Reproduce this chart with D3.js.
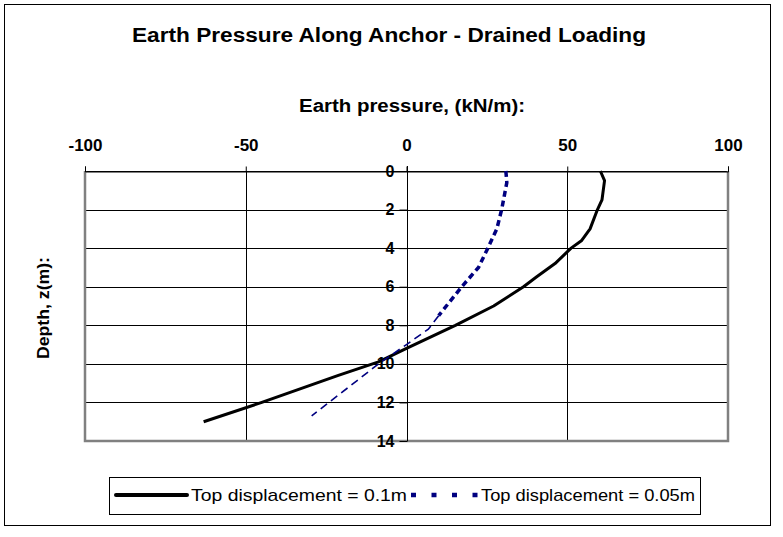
<!DOCTYPE html>
<html><head><meta charset="utf-8">
<script src="https://cdn.jsdelivr.net/npm/d3@7"></script>
<style>body{margin:0;background:#fff}svg{display:block;font-family:"Liberation Sans",Arial,sans-serif}</style>
</head><body><svg id="c" width="783" height="537"></svg>
<script>
const title = "Earth Pressure Along Anchor - Drained Loading";
const xTitle = "Earth pressure, (kN/m):";
const yTitle = "Depth, z(m):";
const xTicks = [-100, -50, 0, 50, 100];
const yTicks = [0, 2, 4, 6, 8, 10, 12, 14];
const seriesNames = ["Top displacement = 0.1m", "Top displacement = 0.05m"];
// depth (m) and earth pressure (kN/m)
const depth1 = [0, 0.5, 1.5, 2, 3, 3.6, 4, 4.8, 5.5, 6, 7, 8, 9.2, 9.9, 10.6, 12, 13];
const press1 = [60.3, 61.6, 60.8, 59.4, 57.1, 54.5, 51.2, 46.2, 40.4, 36.4, 27.1, 15.2, 0, -8.7, -21.2, -45, -63.1];
const depth2 = [0, 0.6, 2, 3, 4, 5, 6, 7.5, 8.2, 9, 10, 12.7];
const press2 = [30.9, 31.2, 29.6, 28.1, 25.3, 22.4, 17.2, 10, 6.8, 0, -8.7, -29.5];
const thinFrom = 7.5; // lower part of dashed line renders thinner

const svg = d3.select("#c");
const L = 85, R = 728, T = 171, B = 441;
const x = d3.scaleLinear().domain([-100, 100]).range([L, R]);
const y = d3.scaleLinear().domain([0, 14]).range([T, B]);

// outer border
svg.append("rect").attr("x", 4.5).attr("y", 4.5).attr("width", 766).attr("height", 521)
  .attr("fill", "none").attr("stroke", "#000").attr("stroke-width", 1);

// titles
svg.append("text").attr("x", 389).attr("y", 42).attr("text-anchor", "middle")
  .attr("font-size", 20).attr("font-weight", "bold")
  .attr("textLength", 514).attr("lengthAdjust", "spacingAndGlyphs").text(title);
svg.append("text").attr("x", 412).attr("y", 112).attr("text-anchor", "middle")
  .attr("font-size", 18).attr("font-weight", "bold")
  .attr("textLength", 226).attr("lengthAdjust", "spacingAndGlyphs").text(xTitle);
svg.append("text").attr("transform", `translate(49,${(T + B) / 2 + 2}) rotate(-90)`)
  .attr("text-anchor", "middle").attr("font-size", 16).attr("font-weight", "bold")
  .attr("textLength", 102).attr("lengthAdjust", "spacingAndGlyphs").text(yTitle);

// gridlines
const g = svg.append("g");
g.selectAll("line.h").data(yTicks.slice(0, -1)).join("line")
  .attr("x1", L).attr("x2", R).attr("y1", d => Math.round(y(d)) + 0.5).attr("y2", d => Math.round(y(d)) + 0.5)
  .attr("stroke", "#000").attr("stroke-width", 1);
g.selectAll("line.v").data(xTicks.filter(d => d !== -100 && d !== 100 && d !== 0)).join("line")
  .attr("y1", T).attr("y2", B).attr("x1", d => Math.round(x(d)) + 0.5).attr("x2", d => Math.round(x(d)) + 0.5)
  .attr("stroke", "#000").attr("stroke-width", 1);

// plot area gray border (left, bottom, right)
svg.append("path").attr("d", `M${L},${T}V${B}H${R}V${T}`).attr("fill", "none")
  .attr("stroke", "#808080").attr("stroke-width", 2.5);

const fmt = d => String(d);
// top x axis
const xAxis = d3.axisTop(x).tickValues(xTicks).tickSize(5).tickPadding(16).tickFormat(fmt);
const xg = svg.append("g").attr("transform", `translate(0,${T + 0.5})`).call(xAxis);
xg.select(".domain").attr("stroke", "#000");
xg.selectAll("text").attr("font-size", 17).attr("font-weight", "bold").attr("font-family", "Liberation Sans, Arial, sans-serif").attr("fill", "#000");

// y axis at x=0
const yAxis = d3.axisLeft(y).tickValues(yTicks).tickSize(8).tickPadding(5).tickFormat(fmt);
const yg = svg.append("g").attr("transform", `translate(${Math.round(x(0)) + 0.5},0)`).call(yAxis);
yg.select(".domain").attr("d", `M0,${T - 5}V${B}`).attr("stroke", "#000");
yg.selectAll("text").attr("font-size", 16).attr("font-weight", "bold").attr("font-family", "Liberation Sans, Arial, sans-serif").attr("fill", "#000");

// series
const line = d3.line().x(d => x(d[1])).y(d => y(d[0]));
const s1 = depth1.map((d, i) => [d, press1[i]]);
const s2 = depth2.map((d, i) => [d, press2[i]]);
svg.append("path").datum(s1).attr("d", line).attr("fill", "none")
  .attr("stroke", "#000").attr("stroke-width", 3).attr("stroke-linejoin", "round");
const s2a = s2.filter(d => d[0] <= thinFrom);
const s2b = s2.filter(d => d[0] >= thinFrom);
svg.append("path").datum(s2b).attr("d", line).attr("fill", "none")
  .attr("stroke", "#000080").attr("stroke-width", 1.6).attr("stroke-dasharray", "8,5");
svg.append("path").datum(s2a).attr("d", line).attr("fill", "none")
  .attr("stroke", "#000080").attr("stroke-width", 3.5).attr("stroke-dasharray", "6,4");

// legend
const lg = svg.append("g");
lg.append("rect").attr("x", 109.5).attr("y", 477.5).attr("width", 591).attr("height", 37)
  .attr("fill", "#fff").attr("stroke", "#000");
const ly = 495;
lg.append("line").attr("x1", 116).attr("x2", 187).attr("y1", ly).attr("y2", ly)
  .attr("stroke", "#000").attr("stroke-width", 4).attr("stroke-linecap", "round");
lg.append("text").attr("x", 191).attr("y", ly + 6).attr("font-size", 17)
  .attr("textLength", 216).attr("lengthAdjust", "spacingAndGlyphs").text(seriesNames[0]);
lg.append("line").attr("x1", 411).attr("x2", 478).attr("y1", ly).attr("y2", ly)
  .attr("stroke", "#000080").attr("stroke-width", 4.5).attr("stroke-dasharray", "5,15.5");
lg.append("text").attr("x", 481).attr("y", ly + 6).attr("font-size", 17)
  .attr("textLength", 214).attr("lengthAdjust", "spacingAndGlyphs").text(seriesNames[1]);
</script></body></html>
